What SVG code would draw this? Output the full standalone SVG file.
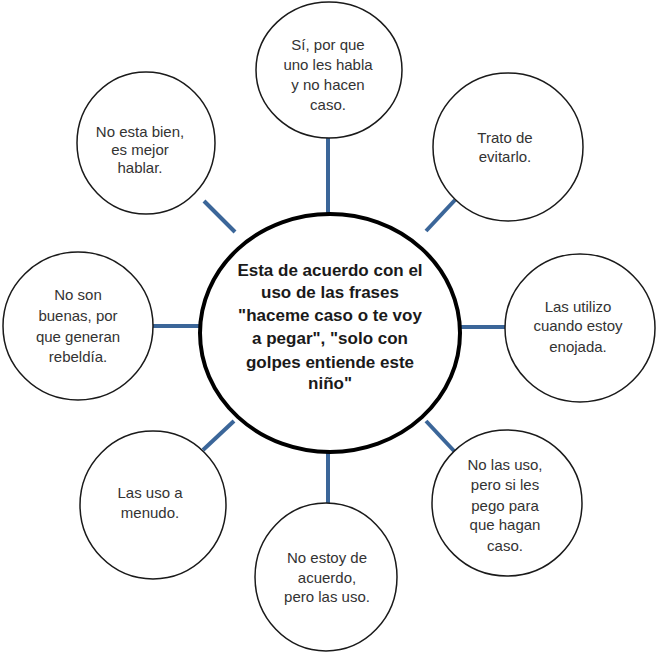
<svg xmlns="http://www.w3.org/2000/svg" width="657" height="654" viewBox="0 0 657 654">
<style>
.n{fill:#fff;stroke:#1a1a1a;stroke-width:1.5}
.c{fill:#fff;stroke:#000;stroke-width:4}
.t{font-family:"Liberation Sans",Arial,sans-serif;font-size:15px;fill:#333;text-anchor:middle}
.m{font-family:"Liberation Sans",Arial,sans-serif;font-size:17px;font-weight:bold;fill:#1a1a1a;text-anchor:middle}
.k{stroke:#3b6699;stroke-width:4;fill:none}
</style>
<rect width="657" height="654" fill="#fff"/>
<g id="connectors">
<line class="k" x1="328" y1="138" x2="328" y2="216"/>
<line class="k" x1="204" y1="201" x2="235" y2="232"/>
<line class="k" x1="455" y1="200" x2="426" y2="231"/>
<line class="k" x1="152" y1="326" x2="202" y2="326"/>
<line class="k" x1="460" y1="327" x2="505" y2="327"/>
<line class="k" x1="203" y1="450" x2="234" y2="421"/>
<line class="k" x1="426" y1="421" x2="455" y2="452"/>
<line class="k" x1="328" y1="450" x2="328" y2="504"/>
</g>
<g id="center">
<ellipse class="c" cx="330" cy="333" rx="130" ry="119"/>
<text class="m"><tspan x="330" y="276">Esta de acuerdo con el</tspan><tspan x="330" y="298">uso de las frases</tspan><tspan x="330" y="321">"haceme caso o te voy</tspan><tspan x="330" y="344">a pegar", "solo con</tspan><tspan x="330" y="368">golpes entiende este</tspan><tspan x="330" y="389">niño"</tspan></text>
</g>
<g id="n-top">
<ellipse class="n" cx="329" cy="70" rx="73" ry="68"/>
<text class="t"><tspan x="328" y="50">Sí, por que</tspan><tspan x="328" y="70">uno les habla</tspan><tspan x="328" y="90">y no hacen</tspan><tspan x="328" y="110">caso.</tspan></text>
</g>
<g id="n-topleft">
<ellipse class="n" cx="146" cy="143" rx="69" ry="71"/>
<text class="t"><tspan x="140" y="137">No esta bien,</tspan><tspan x="140" y="155">es mejor</tspan><tspan x="140" y="173">hablar.</tspan></text>
</g>
<g id="n-topright">
<ellipse class="n" cx="508" cy="147" rx="75" ry="74"/>
<text class="t"><tspan x="505" y="143">Trato de</tspan><tspan x="505" y="162">evitarlo.</tspan></text>
</g>
<g id="n-left">
<ellipse class="n" cx="78" cy="326" rx="75" ry="74"/>
<text class="t"><tspan x="78" y="300">No son</tspan><tspan x="78" y="321">buenas, por</tspan><tspan x="78" y="342">que generan</tspan><tspan x="78" y="362">rebeldía.</tspan></text>
</g>
<g id="n-right">
<ellipse class="n" cx="580" cy="328" rx="75" ry="74"/>
<text class="t"><tspan x="578" y="312">Las utilizo</tspan><tspan x="578" y="331">cuando estoy</tspan><tspan x="578" y="352">enojada.</tspan></text>
</g>
<g id="n-bottomleft">
<ellipse class="n" cx="153" cy="505" rx="73" ry="74"/>
<text class="t"><tspan x="150" y="498">Las uso a</tspan><tspan x="150" y="518">menudo.</tspan></text>
</g>
<g id="n-bottomright">
<ellipse class="n" cx="507" cy="503" rx="75" ry="73"/>
<text class="t"><tspan x="505" y="470">No las uso,</tspan><tspan x="505" y="490">pero si les</tspan><tspan x="505" y="511">pego para</tspan><tspan x="505" y="530">que hagan</tspan><tspan x="505" y="551">caso.</tspan></text>
</g>
<g id="n-bottom">
<ellipse class="n" cx="326" cy="577" rx="71" ry="74"/>
<text class="t"><tspan x="327" y="563">No estoy de</tspan><tspan x="327" y="583">acuerdo,</tspan><tspan x="327" y="602">pero las uso.</tspan></text>
</g>
</svg>
